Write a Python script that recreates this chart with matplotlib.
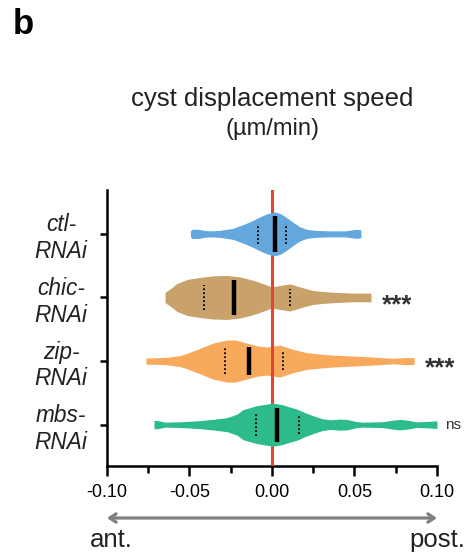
import numpy as np
import matplotlib
matplotlib.use('Agg')
import matplotlib.pyplot as plt
import matplotlib.transforms as mtransforms

plt.rcParams['font.family'] = ['Liberation Sans', 'DejaVu Sans']

# groups, top to bottom
groups = ['ctl-\nRNAi', 'chic-\nRNAi', 'zip-\nRNAi', 'mbs-\nRNAi']
colors = ['#63a7dc', '#c9a16a', '#f7aa5c', '#2dbb8c']
signif = ['', '***', '***', 'ns']

# violin outlines: speed values and half widths
ctl_x = [-0.0494, -0.0485, -0.0448, -0.0412, -0.0376, -0.0315, -0.0236, -0.0164, -0.0121,
         -0.0073, -0.0030, 0.0018, 0.0055, 0.0091, 0.0133, 0.0170, 0.0212, 0.0261,
         0.0352, 0.0442, 0.0485, 0.0515, 0.0539]
ctl_w = [0.047, 0.071, 0.074, 0.055, 0.047, 0.055, 0.087, 0.157, 0.205,
         0.268, 0.315, 0.346, 0.315, 0.252, 0.173, 0.110, 0.071, 0.055,
         0.047, 0.047, 0.063, 0.071, 0.063]

chic_x = [-0.0648, -0.0636, -0.0606, -0.0576, -0.0515, -0.0436, -0.0358, -0.0273, -0.0194,
          -0.0133, -0.0091, -0.0042, 0.0, 0.0048, 0.0109, 0.0170, 0.0212, 0.0248,
          0.0309, 0.0370, 0.0491, 0.0600]
chic_w = [0.079, 0.102, 0.157, 0.220, 0.283, 0.315, 0.339, 0.346, 0.323,
          0.283, 0.252, 0.205, 0.165, 0.189, 0.213, 0.165, 0.134, 0.110,
          0.094, 0.082, 0.068, 0.068]

zip_x = [-0.0764, -0.0636, -0.0558, -0.0515, -0.0436, -0.0358, -0.0273, -0.0224, -0.0152,
         -0.0085, -0.0030, 0.0048, 0.0127, 0.0212, 0.0291, 0.0370, 0.0576, 0.0733,
         0.0806, 0.0861]
zip_w = [0.047, 0.058, 0.087, 0.121, 0.200, 0.283, 0.331, 0.331, 0.283,
         0.236, 0.220, 0.252, 0.184, 0.131, 0.110, 0.094, 0.068, 0.044,
         0.055, 0.055]

mbs_x = [-0.0715, -0.0691, -0.0648, -0.0539, -0.0436, -0.0345, -0.0273, -0.0212, -0.0176,
         -0.0091, 0.0006, 0.0061, 0.0109, 0.0152, 0.0200, 0.0248, 0.0303, 0.0352,
         0.0412, 0.0455, 0.0515, 0.0552, 0.0673, 0.0733, 0.0776, 0.0818, 0.0879,
         0.0939, 0.1000]
mbs_w = [0.066, 0.063, 0.039, 0.047, 0.063, 0.087, 0.110, 0.165, 0.236,
         0.299, 0.339, 0.315, 0.276, 0.244, 0.189, 0.142, 0.094, 0.076,
         0.087, 0.082, 0.047, 0.039, 0.047, 0.071, 0.083, 0.071, 0.044,
         0.050, 0.060]

medians = [0.0018, -0.023, -0.014, 0.003]
q1 = [-0.0085, -0.041, -0.0285, -0.0097]
q3 = [0.0085, 0.011, 0.0067, 0.0164]

outlines = [(ctl_x, ctl_w), (chic_x, chic_w), (zip_x, zip_w), (mbs_x, mbs_w)]


fig = plt.figure(figsize=(4.68, 5.56), dpi=100)
ax = fig.add_axes([0.2286, 0.1619, 0.7051, 0.4964])

ypos = [4, 3, 2, 1]
zorders = [4, 2, 2, 4]  # red line shows through brown/orange only

for i in range(len(groups)):
    xs, ws = np.array(outlines[i][0]), np.array(outlines[i][1])
    y = ypos[i]
    ax.fill_between(xs, y - ws, y + ws, color=colors[i], lw=0, zorder=zorders[i])
    # median
    hw = np.interp(medians[i], xs, ws) * 0.82
    ax.plot([medians[i], medians[i]], [y - hw, y + hw], color='black', lw=3.2,
            solid_capstyle='butt', zorder=6)
    # quartiles
    for q in (q1[i], q3[i]):
        hq = np.interp(q, xs, ws) * 0.62
        ax.plot([q, q], [y - hq, y + hq], color='black', lw=1.3,
                linestyle=(0, (1, 1.2)), zorder=6)
    if signif[i]:
        if signif[i] == 'ns':
            ax.annotate('ns', (xs.max(), y), xytext=(6, 0), textcoords='offset points',
                        ha='left', va='center', fontsize=11, color='#333333',
                        annotation_clip=False)
        else:
            ax.annotate(signif[i], (xs.max(), y), xytext=(8, -10.5),
                        textcoords='offset points', ha='left', va='baseline',
                        fontsize=18.5, fontweight='bold', color='#333333',
                        annotation_clip=False)

ax.axvline(0, color='#e8432e', lw=2.2, zorder=3)

ax.set_xlim(-0.10, 0.10)
ax.set_ylim(0.35, 4.69)
ax.set_xticks([-0.10, -0.05, 0.0, 0.05, 0.10])
ax.set_xticklabels(['-0.10', '-0.05', '0.00', '0.05', '0.10'])
ax.set_xticks([-0.075, -0.025, 0.025, 0.075], minor=True)
ax.set_yticks(ypos)
ax.set_yticklabels(groups, fontsize=16.3, style='italic', ha='center', color='#222222')
ax.tick_params(axis='y', length=5, width=1.8, pad=28)
ax.tick_params(axis='x', which='major', length=7, width=1.8, labelsize=13, pad=6)
ax.tick_params(axis='x', which='minor', length=5, width=1.8)

for s in ['top', 'right']:
    ax.spines[s].set_visible(False)
for s in ['left', 'bottom']:
    ax.spines[s].set_linewidth(1.8)

fig.text(0.0278, 0.985, 'b', fontsize=25, fontweight='bold', ha='left', va='top')
fig.text(0.5812, 1 - 99 / 556, 'cyst displacement speed', fontsize=18.5,
         ha='center', va='center', color='#222222')
fig.text(0.5812, 1 - 129 / 556, '(\u00b5m/min)', fontsize=17, ha='center',
         va='center', color='#222222')

trans = mtransforms.blended_transform_factory(ax.transData, fig.transFigure)
ax.annotate('', xy=(-0.10, 1 - 518 / 556), xytext=(0.10, 1 - 518 / 556),
            xycoords=trans, textcoords=trans, annotation_clip=False,
            arrowprops=dict(arrowstyle='<->,head_length=0.45,head_width=0.3',
                            color='#7f7f7f', lw=2.3, shrinkA=0, shrinkB=0))
fig.text(90 / 468, 1 - 547 / 556, 'ant.', fontsize=18.5, ha='left', va='baseline',
         color='#222222')
fig.text(465 / 468, 1 - 547 / 556, 'post.', fontsize=18.5, ha='right', va='baseline',
         color='#222222')

fig.savefig('out.png', dpi=100)
